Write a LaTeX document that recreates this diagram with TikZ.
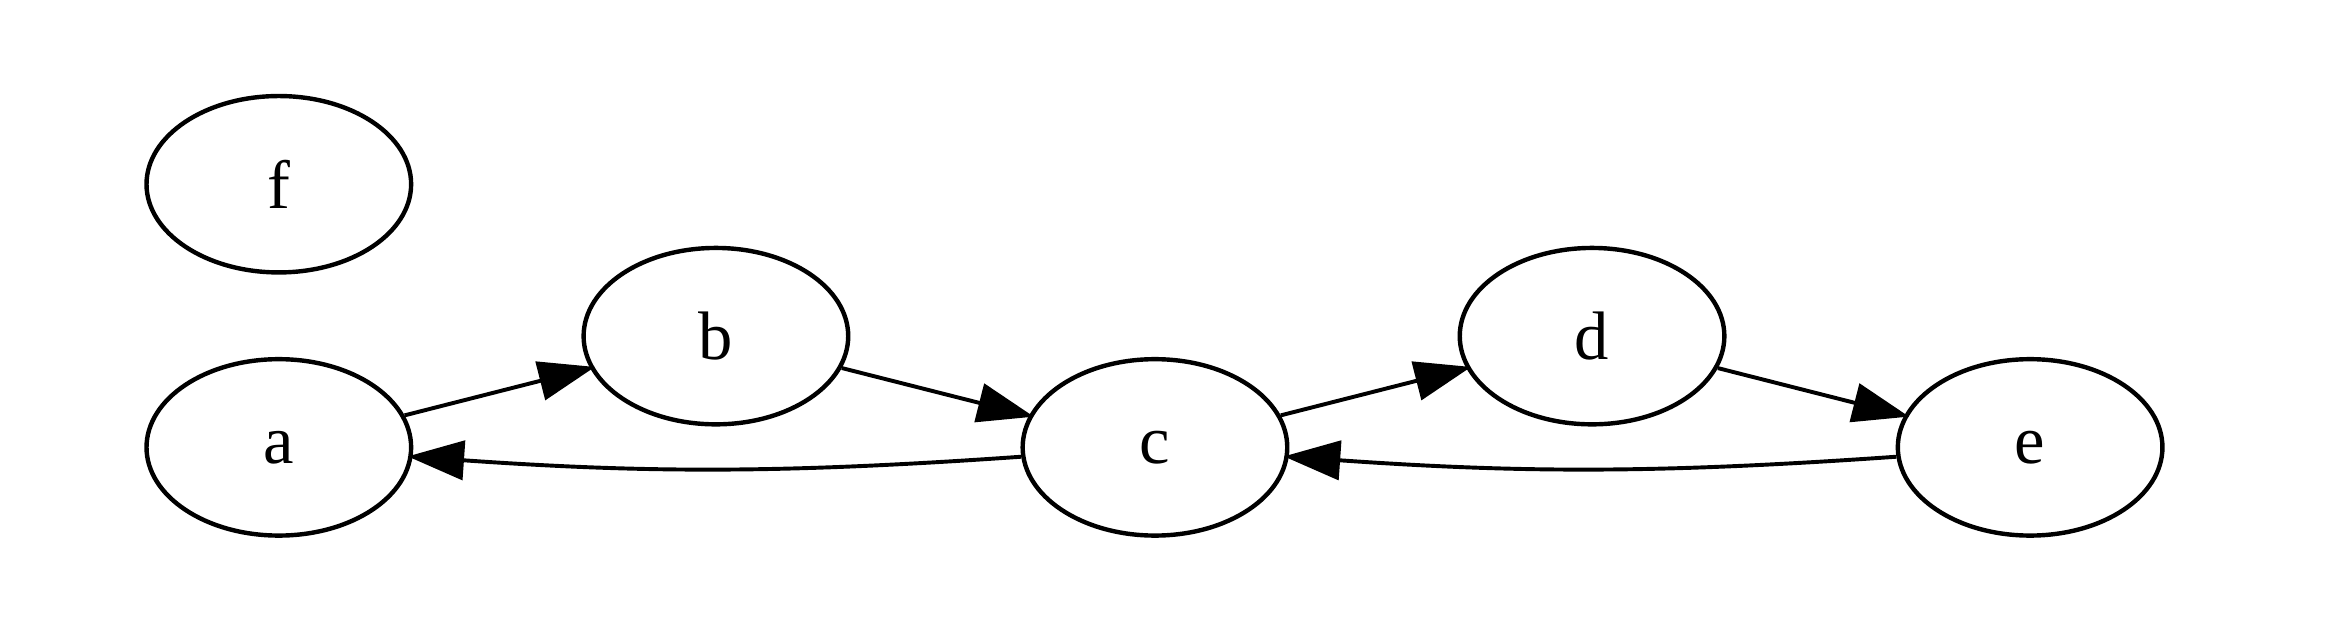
\documentclass[tikz,border=0pt]{standalone}
\usepackage{fontspec}
\setmainfont{Liberation Serif}
\usepackage{tikz}
\usetikzlibrary{shapes.geometric}
\usetikzlibrary{arrows.meta}
\tikzstyle{vertex}=[ellipse,draw,line width=0.9pt,minimum width=54pt,minimum height=36pt,inner sep=0pt,font=\fontsize{14}{16}\selectfont]
\tikzstyle{edge} = [draw,line width=0.8pt,shorten >=-1pt,-{Triangle[length=11.5pt,width=8pt]}]

\begin{document}
\begin{tikzpicture}[x=1pt,y=1pt]
 \useasboundingbox (0,0) rectangle (475.5,128.2);

 %nodes
 \foreach \x/\y/\name/\label in {56.9/90.6/f/f, 56.9/36.9/a/a, 146.1/59.6/b/b, 235.7/36.9/c/c, 324.9/59.6/d/d, 414.3/36.9/e/e}
   \node[vertex] (\name) at (\x,\y) {\label};

 %forward edges
 \foreach \source/\dest in {a/b, b/c, c/d, d/e}
   \path[edge] (\source) -- (\dest);

 %back edges
 \foreach \source/\dest in {e/c, c/a}
   \path[edge] (\source) to[bend left=4] (\dest);

\end{tikzpicture}
\end{document}
